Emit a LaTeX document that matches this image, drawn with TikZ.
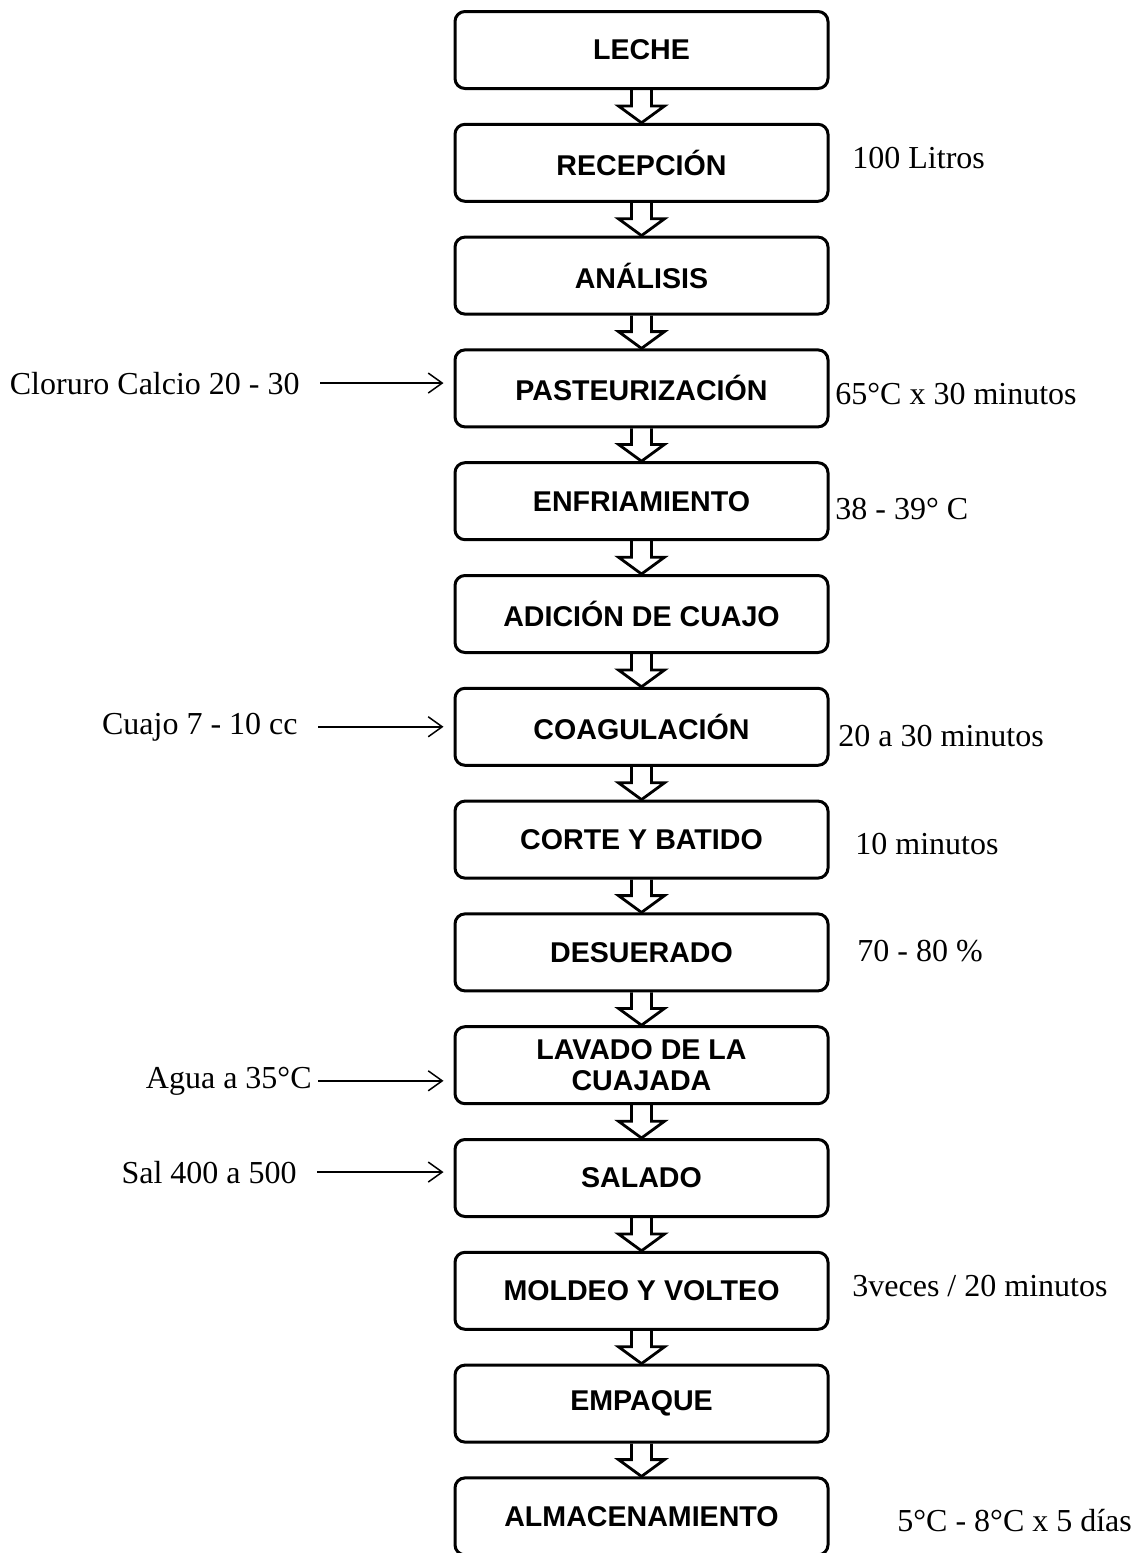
\documentclass[tikz,border=0pt]{standalone}
\usepackage{fontspec}
\setmainfont{Liberation Serif}
\newfontfamily\cajafont{Liberation Sans}
\usetikzlibrary{arrows.meta,calc}
\tikzset{
  etapa/.style={draw=black,rounded corners=5pt,minimum width=186.5pt,minimum height=38.5pt,
    align=center,inner sep=2pt,line width=1.5pt,font=\cajafont\bfseries\fontsize{14.3}{15.5}\selectfont},
  nota/.style={inner sep=0pt,font=\fontsize{16}{18}\selectfont},
  notad/.style={nota,anchor=base west},
  notai/.style={nota,anchor=base east},
  entrada/.style={-{Straight Barb[length=7pt,width=10pt]},line width=0.75pt,shorten <=10pt,shorten >=5pt},
  flecha/.style={draw=black,line width=1.4pt,line join=miter}
}
% flecha hueca entre dos etapas
\newcommand{\bajar}[2]{%
  \draw[flecha] ($(#1.south)+(-10,0)$) -- ($(#1.south)+(-10,16)$) -- ($(#1.south)+(-23,16)$)
    -- (#2.north) -- ($(#1.south)+(23,16)$) -- ($(#1.south)+(10,16)$) -- ($(#1.south)+(10,0)$);}

\begin{document}
\begin{tikzpicture}[x=0.5pt,y=-0.5pt]
  \useasboundingbox (0,0) rectangle (1135,1553);
  \clip (0,0) rectangle (1135,1553);

  % etapas
  \node[etapa] (le) at (641.5,50) {LECHE};
  \node[etapa] (re) at (641.5,162.8) {RECEPCIÓN};
  \node[etapa] (an) at (641.5,275.6) {ANÁLISIS};
  \node[etapa] (pa) at (641.5,388.4) {PASTEURIZACIÓN};
  \node[etapa] (en) at (641.5,501.2) {ENFRIAMIENTO};
  \node[etapa] (ad) at (641.5,614) {ADICIÓN DE CUAJO};
  \node[etapa] (co) at (641.5,726.8) {COAGULACIÓN};
  \node[etapa] (cb) at (641.5,839.6) {CORTE Y BATIDO};
  \node[etapa] (de) at (641.5,952.4) {DESUERADO};
  \node[etapa] (la) at (641.5,1065.2) {LAVADO DE LA\\CUAJADA};
  \node[etapa] (sa) at (641.5,1178) {SALADO};
  \node[etapa] (mv) at (641.5,1290.8) {MOLDEO Y VOLTEO};
  \node[etapa] (em) at (641.5,1403.6) {EMPAQUE};
  \node[etapa] (al) at (641.5,1516.4) {ALMACENAMIENTO};

  \foreach \a/\b in {le/re,re/an,an/pa,pa/en,en/ad,ad/co,co/cb,cb/de,de/la,la/sa,sa/mv,mv/em,em/al}
    {\bajar{\a}{\b}}

  % condiciones a la derecha
  \node[notad] (litros) at (852,168) {100 Litros};
  \node[notad] (tpas) at (835,404) {65°C x 30 minutos};
  \node[notad] (tenf) at (835,519) {38 - 39° C};
  \node[notad] (tcoa) at (838,746) {20 a 30 minutos};
  \node[notad] (tcor) at (855,854) {10 minutos};
  \node[notad] (psue) at (857,961) {70 - 80 \%};
  \node[notad] (volt) at (852,1296) {3veces / 20 minutos};
  \node[notad] (talm) at (897,1531) {5°C - 8°C x 5 días};

  % insumos a la izquierda
  \node[notai] (clor) at (300,394) {Cloruro Calcio 20 - 30};
  \node[notai] (cuaj) at (298,734) {Cuajo 7 - 10 cc};
  \node[notai] (agua) at (312,1088) {Agua a 35°C};
  \node[notai] (sal) at (297,1183) {Sal 400 a 500};

  \draw[entrada] (clor.east) -- (clor.east -| pa.west);
  \draw[entrada] (cuaj.east) -- (cuaj.east -| co.west);
  \draw[entrada,shorten <=3pt] (agua.east) -- (agua.east -| la.west);
  \draw[entrada] (sal.east) -- (sal.east -| sa.west);
\end{tikzpicture}
\end{document}
